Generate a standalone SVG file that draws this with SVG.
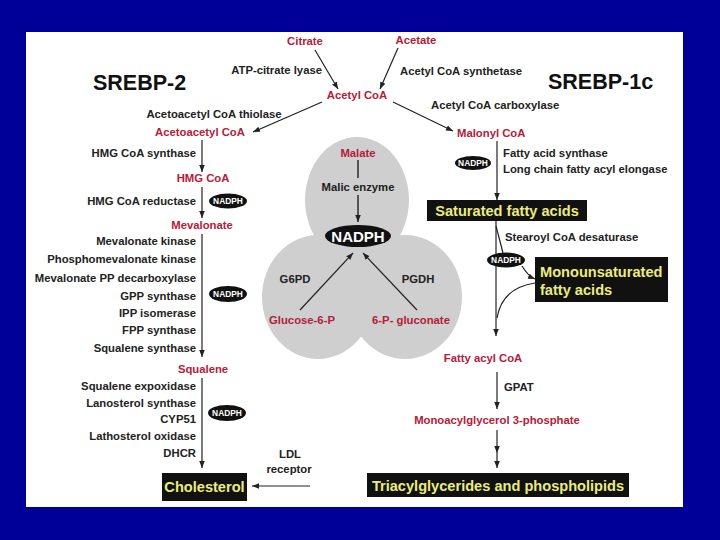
<svg xmlns="http://www.w3.org/2000/svg" width="720" height="540" viewBox="0 0 720 540">
<defs>
<style>
text{font-family:"Liberation Sans",Arial,sans-serif;font-weight:bold}
.lbl{font-size:11.3px;fill:#222}
.red{font-size:11.3px;fill:#b3203a}
.ttl{font-size:21.5px;fill:#111}
.bx{font-size:14.6px;fill:#ecec80}
.nad{font-size:8.4px;fill:#fff}
.nadL{font-size:15px;fill:#fff}
.m{text-anchor:middle}
.e{text-anchor:end}
.ln{stroke:#222;stroke-width:1.2;fill:none}
.blk{fill:#111}
.gray{fill:#cfcfcf}
</style>
<marker id="ah" viewBox="0 0 10 10" refX="10" refY="5" markerWidth="7" markerHeight="7" orient="auto" markerUnits="userSpaceOnUse"><path d="M0,1 L10,5 L0,9 z" fill="#222"/></marker>
</defs>
<rect width="720" height="540" fill="#000099"/>
<rect x="26" y="32" width="657" height="475" fill="#fff"/>

<g id="trefoil">
<ellipse class="gray" cx="357" cy="200" rx="52" ry="63"/>
<ellipse class="gray" cx="318" cy="297" rx="56" ry="62"/>
<ellipse class="gray" cx="405" cy="297" rx="57" ry="62"/>
</g>

<g id="connectors">
<line class="ln" x1="315" y1="50" x2="338" y2="89" marker-end="url(#ah)"/>
<line class="ln" x1="398" y1="48" x2="380" y2="89" marker-end="url(#ah)"/>
<line class="ln" x1="322" y1="102" x2="253" y2="132" marker-end="url(#ah)"/>
<line class="ln" x1="393" y1="102" x2="453" y2="131" marker-end="url(#ah)"/>
<line class="ln" x1="202" y1="140" x2="202" y2="172" marker-end="url(#ah)"/>
<line class="ln" x1="202" y1="187" x2="202" y2="218" marker-end="url(#ah)"/>
<line class="ln" x1="202" y1="234" x2="202" y2="357" marker-end="url(#ah)"/>
<line class="ln" x1="202" y1="378" x2="202" y2="468" marker-end="url(#ah)"/>
<line class="ln" x1="310" y1="486" x2="252" y2="486" marker-end="url(#ah)"/>
<line x1="358" y1="160" x2="358" y2="178" stroke="#555" stroke-width="2"/>
<line x1="358" y1="195" x2="358" y2="222" stroke="#555" stroke-width="2" marker-end="url(#ah)"/>
<line class="ln" x1="300" y1="310" x2="353" y2="253" marker-end="url(#ah)"/>
<line class="ln" x1="417" y1="310" x2="363" y2="253" marker-end="url(#ah)"/>
<line class="ln" x1="497" y1="141" x2="497" y2="200" marker-end="url(#ah)"/>
<line class="ln" x1="496" y1="221" x2="496" y2="336" marker-end="url(#ah)"/>
<line class="ln" x1="496" y1="226" x2="503" y2="253"/>
<path class="ln" d="M522,266 Q528,276 535,279" marker-end="url(#ah)"/>
<path class="ln" d="M535,283 Q502,288 497,318"/>
<line class="ln" x1="497" y1="372" x2="497" y2="409" marker-end="url(#ah)"/>
<line class="ln" x1="497" y1="430" x2="497" y2="453" marker-end="url(#ah)"/>
<line class="ln" x1="497" y1="453" x2="497" y2="468" marker-end="url(#ah)"/>
</g>

<g id="titles">
<text class="ttl" x="93" y="90">SREBP-2</text>
<text class="ttl" x="548" y="89">SREBP-1c</text>
</g>

<g id="citrate"><text class="red m" x="305" y="45">Citrate</text></g>
<g id="acetate"><text class="red m" x="416" y="44">Acetate</text></g>
<g id="acetyl-coa"><text class="red m" x="357" y="99">Acetyl CoA</text></g>
<g id="atp-citrate-lyase"><text class="lbl e" x="322" y="74">ATP-citrate lyase</text></g>
<g id="acs"><text class="lbl" x="400" y="75">Acetyl CoA synthetase</text></g>
<g id="thiolase"><text class="lbl m" x="214" y="118">Acetoacetyl CoA thiolase</text></g>
<g id="acc"><text class="lbl" x="431" y="109">Acetyl CoA carboxylase</text></g>
<g id="acetoacetyl-coa"><text class="red m" x="200" y="136">Acetoacetyl CoA</text></g>
<g id="malonyl-coa"><text class="red" x="457" y="137">Malonyl CoA</text></g>

<g id="hmg-synthase"><text class="lbl e" x="196" y="157">HMG CoA synthase</text></g>
<g id="hmg-coa"><text class="red m" x="203" y="182">HMG CoA</text></g>
<g id="hmg-reductase"><text class="lbl e" x="196" y="205">HMG CoA reductase</text></g>
<g id="nadph-1"><ellipse class="blk" cx="228" cy="201" rx="19" ry="7.5"/><text class="nad m" x="228" y="204">NADPH</text></g>
<g id="mevalonate"><text class="red m" x="202" y="229">Mevalonate</text></g>
<g id="mev-enzymes">
<text class="lbl e" x="196" y="245">Mevalonate kinase</text>
<text class="lbl e" x="196" y="263">Phosphomevalonate kinase</text>
<text class="lbl e" x="196" y="282">Mevalonate PP decarboxylase</text>
<text class="lbl e" x="196" y="300">GPP synthase</text>
<text class="lbl e" x="196" y="317">IPP isomerase</text>
<text class="lbl e" x="196" y="334">FPP synthase</text>
<text class="lbl e" x="196" y="352">Squalene synthase</text>
</g>
<g id="nadph-2"><ellipse class="blk" cx="228" cy="294" rx="19" ry="8"/><text class="nad m" x="228" y="297">NADPH</text></g>
<g id="squalene"><text class="red m" x="203" y="373">Squalene</text></g>
<g id="sq-enzymes">
<text class="lbl e" x="196" y="390">Squalene expoxidase</text>
<text class="lbl e" x="196" y="407">Lanosterol synthase</text>
<text class="lbl e" x="196" y="423">CYP51</text>
<text class="lbl e" x="196" y="440">Lathosterol oxidase</text>
<text class="lbl e" x="196" y="457">DHCR</text>
</g>
<g id="nadph-3"><ellipse class="blk" cx="227" cy="413" rx="19" ry="8"/><text class="nad m" x="227" y="416">NADPH</text></g>
<g id="cholesterol"><rect class="blk" x="162" y="473" width="85" height="28"/><text class="bx m" x="204.5" y="492">Cholesterol</text></g>
<g id="ldl-receptor"><text class="lbl m" x="290" y="458">LDL</text><text class="lbl m" x="289" y="473">receptor</text></g>

<g id="malate"><text class="red m" x="358" y="157">Malate</text></g>
<g id="malic-enzyme"><text class="lbl m" x="358" y="191">Malic enzyme</text></g>
<g id="nadph-center"><ellipse class="blk" cx="358" cy="236" rx="33" ry="11"/><text class="nadL m" x="358" y="241.5">NADPH</text></g>
<g id="g6pd"><text class="lbl m" x="295" y="283">G6PD</text></g>
<g id="pgdh"><text class="lbl m" x="418" y="283">PGDH</text></g>
<g id="glucose-6-p"><text class="red m" x="302" y="324">Glucose-6-P</text></g>
<g id="gluconate"><text class="red m" x="411" y="324">6-P- gluconate</text></g>

<g id="fas"><text class="lbl" x="503" y="157">Fatty acid synthase</text><text class="lbl" x="503" y="173">Long chain fatty acyl elongase</text></g>
<g id="nadph-4"><ellipse class="blk" cx="473" cy="163" rx="18" ry="7"/><text class="nad m" x="473" y="166">NADPH</text></g>
<g id="saturated"><rect class="blk" x="427" y="200" width="160" height="21"/><text class="bx m" x="507" y="215.5">Saturated fatty acids</text></g>
<g id="scd"><text class="lbl" x="505" y="241">Stearoyl CoA desaturase</text></g>
<g id="nadph-5"><ellipse class="blk" cx="506" cy="260" rx="19" ry="7.5"/><text class="nad m" x="506" y="263">NADPH</text></g>
<g id="monounsaturated"><rect class="blk" x="535" y="257" width="133" height="45"/><text class="bx" x="540" y="277">Monounsaturated</text><text class="bx" x="540" y="295">fatty acids</text></g>
<g id="fatty-acyl-coa"><text class="red m" x="483" y="362">Fatty acyl CoA</text></g>
<g id="gpat"><text class="lbl" x="504" y="391">GPAT</text></g>
<g id="mag3p"><text class="red m" x="497" y="424">Monoacylglycerol 3-phosphate</text></g>
<g id="tag"><rect class="blk" x="367" y="473" width="262" height="24"/><text class="bx m" x="498" y="490.5">Triacylglycerides and phospholipids</text></g>
</svg>
